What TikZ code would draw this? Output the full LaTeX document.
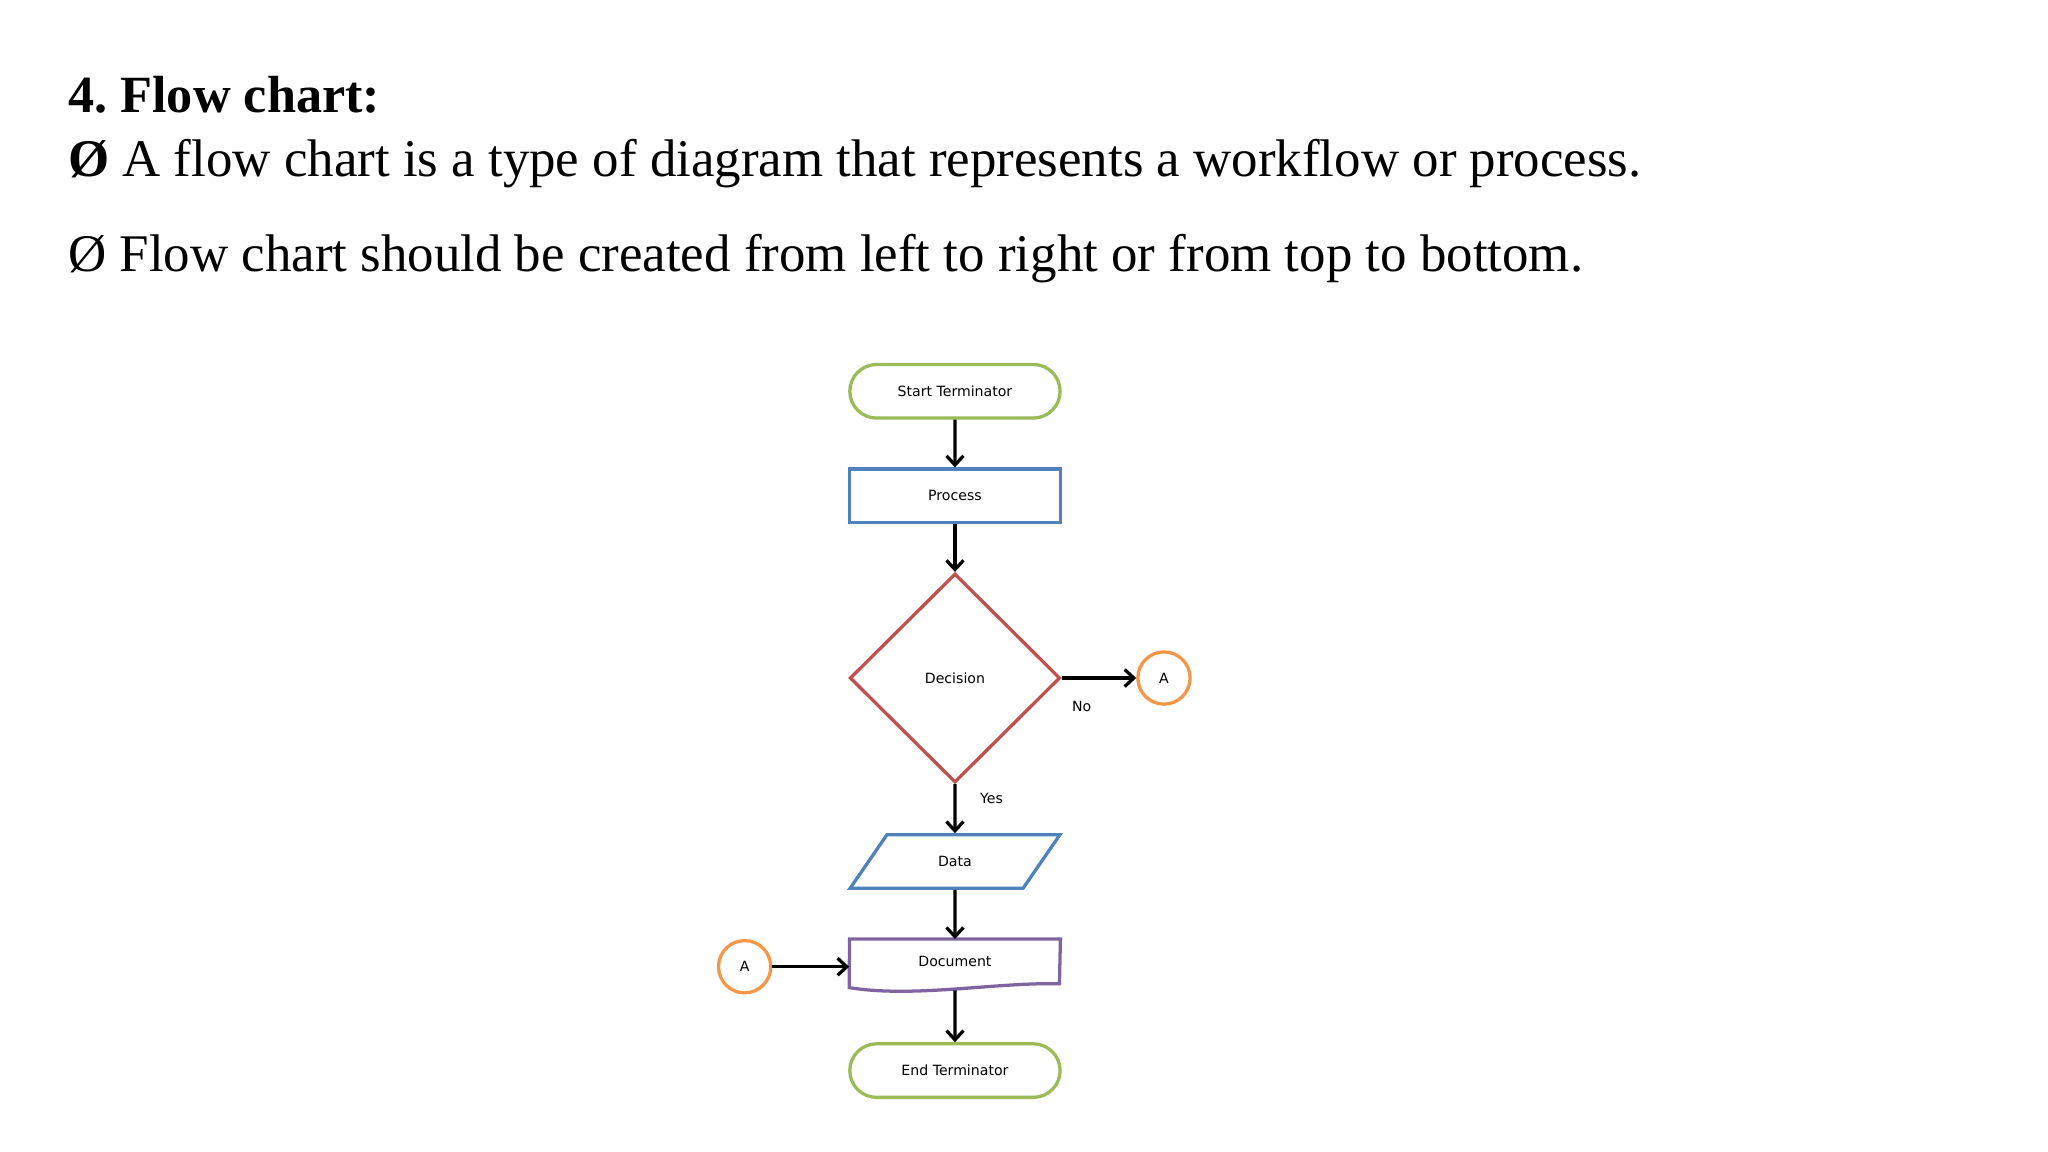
\documentclass[tikz,border=0pt]{standalone}
\usepackage{fontspec}
\setmainfont{Liberation Serif}
\newfontfamily\lblfont{DejaVu Sans}
\usetikzlibrary{shapes.geometric,shapes.misc,arrows.meta}
\definecolor{cgreen}{HTML}{9BBB59}
\definecolor{cblue}{HTML}{4F81BD}
\definecolor{cred}{HTML}{C0504D}
\definecolor{corange}{HTML}{F79646}
\definecolor{cpurple}{HTML}{8064A2}
\frenchspacing
\begin{document}
\begin{tikzpicture}[x=1pt,y=-1pt,
  lbl/.style={font=\lblfont\fontsize{10.8}{12}\selectfont},
  term/.style={lbl,draw=cgreen,line width=2.5pt,rounded rectangle,minimum width=161pt,minimum height=41pt,inner sep=0pt},
  proc/.style={lbl,draw=cblue,line width=2.5pt,rectangle,minimum width=161pt,minimum height=41pt,inner sep=0pt},
  conn/.style={lbl,draw=corange,line width=2.5pt,circle,minimum size=40pt,inner sep=0pt},
  flow/.style={line width=2.5pt,-{Straight Barb[length=7pt,width=13pt,line width=2.5pt]}},
  head/.style={anchor=base west,inner sep=0pt,font=\fontsize{40.5}{44}\selectfont}]
\useasboundingbox (0,0) rectangle (1567.7,881.8);
\fill[white] (0,0) rectangle (1567.7,881.8);
\node[head,font=\bfseries\fontsize{40}{44}\selectfont] (title) at (52,86) {4. Flow chart:};
\node[head] (b1) at (52,135) {\textbf{Ø} A flow chart is a type of diagram that represents a workflow or process.};
\node[head] (b2) at (52,208) {Ø Flow chart should be created from left to right or from top to bottom.};
\node[term] (start) at (731,299.5) {Start Terminator};
\node[proc] (process) at (731,379.5) {Process};
\node[lbl,draw=cred,line width=2.5pt,diamond,minimum width=161pt,minimum height=160pt,inner sep=0pt] (dec) at (731,519) {Decision};
\node[conn] (a1) at (891,519) {A};
\node[lbl,draw=cblue,line width=2.5pt,trapezium,trapezium left angle=49,trapezium right angle=131,trapezium stretches=true,minimum width=161pt,minimum height=41pt,inner sep=0pt] (data) at (731,659.5) {Data};
\node[lbl,minimum width=161pt,minimum height=34pt,inner sep=0pt] (doc) at (731,736) {Document};
\draw[cpurple,line width=2.5pt] (doc.north west) -- (doc.north east) -- (811,753) .. controls (760,752) and (700,764) .. (650,756) -- cycle;
\node[conn] (a2) at (570,740) {A};
\node[term] (end) at (731,819.5) {End Terminator};
\node[lbl] (no) at (828,541) {No};
\node[lbl] (yes) at (759,611) {Yes};
\draw[flow] (start) -- (process);
\draw[flow] (process) -- (dec.north);
\draw[flow] (dec.east) -- (a1);
\draw[flow] (dec.south) -- (data);
\draw[flow] (data) -- (doc.north);
\draw[flow] (a2) -- (650,740);
\draw[flow] (731,758) -- (end);
\end{tikzpicture}
\end{document}
